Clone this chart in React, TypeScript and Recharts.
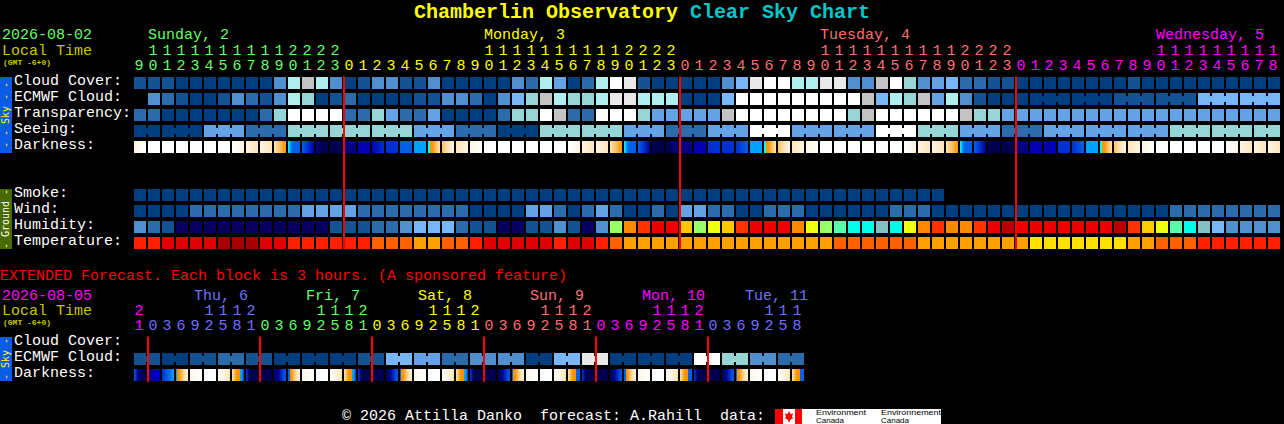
import React from 'react';
import { ComposedChart, Scatter, XAxis, YAxis, ReferenceLine } from 'recharts';

const MONO = '"Liberation Mono", "DejaVu Sans Mono", monospace';

// forecast levels, one per hour column (0 = clear/dark blue ... 10 = white)
const cloudCover = [1,1,1,0,0,0,0,0,0,0, 3,7,8,7,3,0,1,3,3,1, 1,3,0,0,0,0,0,3,2,7, 4,0,2,7,10,9,1,0,0,0, 0,0,3,5,9,10,10,7,7,9, 9,3,3,8,10,6,3,4,5,2, 2,1,1,0,0,0,0,0,0,0, 0,1,0,0,0,0,0,0,0,0, 0,0];
const ecmwfCloud = [null,3,2,1,0,0,1,3,2,1, 3,7,6,0,1,2,0,0,0,0, 1,1,3,3,2,0,3,5,6,8, 7,6,6,7,9,9,7,7,7,0, 0,0,5,10,10,10,10,10,10,10, 10,10,8,5,7,6,8,4,7,3, 1,0,0,0,0,0,0,0,0,0, 1,1,1,1,1,1,5,5,5,5, 5,5];
const transparency = [2,2,0,0,0,0,0,0,0,2, 6,10,10,10,10,2,2,6,4,2, 2,4,0,0,0,0,2,6,6,10, 8,2,2,10,10,10,6,4,4,4, 4,4,8,10,10,10,10,10,10,10, 10,6,8,10,10,10,10,10,10,8, 6,6,4,4,4,4,4,4,4,4, 4,4,4,4,4,4,4,4,4,4, 4,4];
const seeing = [0,0,0,0,0,4,4,4,2,2, 2,6,6,6,6,6,6,6,6,6, 4,4,4,2,2,2,0,0,0,6, 6,6,6,6,6,4,4,4,2,2, 2,4,4,4,10,10,10,4,4,4, 4,4,4,10,10,10,6,6,6,4, 4,4,2,2,2,4,4,4,4,4, 4,4,4,4,6,6,6,6,6,6, 6,6];
const smoke = [0,0,0,0,0,0,0,0,0,0, 0,0,0,0,0,0,0,0,0,0, 0,0,0,0,0,0,0,0,0,0, 0,0,0,0,0,0,0,0,0,0, 0,0,0,0,0,0,0,0,0,0, 0,0,0,0,0,0,0,0];
const wind = [0,0,0,0,2,2,2,2,2,2, 2,2,4,4,4,4,2,2,2,2, 2,2,2,2,0,0,0,0,4,4, 2,0,2,4,2,0,0,2,0,4, 4,2,2,0,0,2,2,2,0,0, 0,0,0,0,2,2,2,0,0,0, 0,0,0,0,0,0,0,0,0,0, 0,0,0,0,2,2,2,2,2,2, 2,2];
const humidity = [3,2,1,0,0,0,0,0,0,0, 0,0,0,0,1,1,1,2,2,3, 4,4,4,2,1,1,0,0,1,1, 3,1,0,3,8,11,12,13,13,10, 8,9,10,12,13,13,13,11,9,8, 7,6,6,5,6,9,11,12,11,11, 12,13,14,13,13,13,13,13,13,13, 14,12,10,9,7,6,5,4,3,3, 3,3];
const temperature = [2,2,1,1,1,1,0,0,0,1, 1,2,2,2,2,2,2,3,3,3, 4,4,3,3,2,1,1,1,1,1, 2,1,1,2,3,4,4,4,4,4, 4,4,4,4,4,4,4,4,4,4, 3,3,3,3,3,3,4,4,4,4, 4,4,4,4,5,5,5,5,5,5, 5,4,4,3,3,3,2,2,2,2, 2,2];

// darkness colour stops inside each column, left to right
const darkness = [
  [10,11],[11],[11],[11],[11],[11],[11],[11,10],[10,9],[10,9],
  [9,8,7],[6,4,4,4],[4,3,2],[1,0,0],[0],[1],[2],[2,3],[3],[4],
  [5],[6,7,8,9],[8,9,10],[9,10],[10,11],[11],[11],[11],[11],[11],
  [11],[11,10],[10,9],[10,9],[9,8,7],[6,4,4,4],[4,3,1],[0],[0,1],[1],
  [2],[3],[3],[3,4],[5],[6,7,8,9],[8,9,10],[9,10],[10,11],[11],
  [11],[11],[11],[11],[11],[11,10],[10,9],[10,9],[9,8,7],[6,4,4,4],
  [4,3,1],[0],[0],[1],[2],[2],[3],[3,4],[5],[6,7,8,9],
  [8,9,10],[9,10],[10,11],[11],[11],[11],[11],[11],[11,10],[10,9],
  [10,9],[10,9],
];

const extEcmwf = [1,1,0,0,1,1,2,2,1,1,0,0,0,0,0,0,1,1,5,5,4,4,2,2,3,3,3,3,0,0,5,5,9,9,0,0,0,0,0,0,10,10,6,6,3,3,2,2];
const extDarkness = [
  [4,1,0,0],[1,2,2],[3,4,5],[5,7,8,9,10],[10,11],[11],[11,9],[9,8,7,7,5,3],
  [3,0,0,0],[0],[1,1,3,4],[4,7,8,9,10],[10,11],[11],[11,9],[9,8,7,7,5,3],
  [3,0,0,0],[0],[0,1,3,4],[4,7,8,9,10],[10,11],[11],[11,9],[9,8,7,7,5,3],
  [3,0,0,0],[0],[0,1,3,4],[4,7,8,9,10],[10,11],[11],[11,9],[9,8,7,7,4,4],
  [3,0,0,0],[0],[0,1,3,4],[4,7,8,9,10],[10,11],[11],[11,9],[9,8,7,7,4,4],
  [3,0,0,0],[0],[0,1,3,4],[4,7,8,9,10],[10,11],[11],[11,9],[9,8,7,7,4,4],
];

const mainHours = [9,10,11,12,13,14,15,16,17,18,19,20,21,22,23, 0,1,2,3,4,5,6,7,8,9,10,11,12,13,14,15,16,17,18,19,20,21,22,23, 0,1,2,3,4,5,6,7,8,9,10,11,12,13,14,15,16,17,18,19,20,21,22,23, 0,1,2,3,4,5,6,7,8,9,10,11,12,13,14,15,16,17,18];
const extHours = [21, 0,3,6,9,12,15,18,21, 0,3,6,9,12,15,18,21, 0,3,6,9,12,15,18,21, 0,3,6,9,12,15,18,21, 0,3,6,9,12,15,18,21, 0,3,6,9,12,15,18];

const mainRows = ['Cloud Cover:', 'ECMWF Cloud:', 'Transparency:', 'Seeing:', 'Darkness:', '', '', 'Smoke:', 'Wind:', 'Humidity:', 'Temperature:'];
const extRows = ['Cloud Cover:', 'ECMWF Cloud:', 'Darkness:'];
const mainMidnights = [15, 39, 63];
const extMidnights = [1, 9, 17, 25, 33, 41];

const GREEN = '#66ff66';
const YELLOW = '#ffff00';
const SALMON = '#ff7070';
const MAGENTA = '#ff00ff';
const BLUE = '#7070ff';
const OLIVE_TEXT = '#c8c800';
const mainDayColors = [GREEN, YELLOW, SALMON, MAGENTA];
const extDayColors = [MAGENTA, BLUE, GREEN, YELLOW, SALMON, MAGENTA, BLUE];

const skyColors = ['#003f7f', '#135393', '#2a6bac', '#4f8fcf', '#63a3e5', '#77b7f7', '#95d5d5', '#aeeeee', '#c2c2c2', '#e8e8e8', '#ffffff'];
const darkColors = ['#000050', '#000080', '#0000b0', '#0030d0', '#0060e8', '#00a0ff', '#00ffff', '#ff9000', '#ffc060', '#ffe4b8', '#fff4e4', '#ffffff'];
const humidityColors = ['#08005f', '#135393', '#2a6bac', '#4f8fcf', '#77b7f7', '#80c0c0', '#00ffe8', '#55ffaa', '#99ff66', '#eeff11', '#ffc800', '#ff8800', '#ff3300', '#ee0000', '#b80000'];
const tempColors = ['#a80000', '#e00000', '#ff2000', '#ff6000', '#ffa000', '#ffe000'];

const toPoints = (levels: (number | null)[], row: number) =>
  levels.map((level, i) => ({ x: i + 0.5, y: row + 0.5, level, col: i }));

const colsOf = (levels: number[][], row: number) =>
  levels.map((stops, i) => ({ x: i + 0.5, y: row + 0.5, stops, col: i }));

// solid block, optionally joined to the next column by a short bridge
const blockShape = (palette: string[], joined?: (col: number) => boolean) => (props: any) => {
  const { cx, cy, payload } = props;
  if (payload.level === null || payload.level === undefined) return <g />;
  const fill = palette[payload.level];
  return (
    <g>
      <rect x={cx - 7} y={cy - 6} width={12} height={12} fill={fill} />
      {joined && joined(payload.col) ? <rect x={cx + 5} y={cy - 3} width={2} height={6} fill={fill} /> : null}
    </g>
  );
};

// twilight jumps straight from orange to blue, so that step gets a hard edge
const gradientStops = (stops: number[]) => {
  const out: { offset: number; color: string }[] = [];
  const n = stops.length;
  stops.forEach((s, i) => {
    const offset = n > 1 ? i / (n - 1) : 0;
    if (i > 0 && (stops[i - 1] >= 7) !== (s >= 7)) {
      const mid = offset - 0.5 / (n - 1);
      out.push({ offset: mid, color: darkColors[stops[i - 1]] }, { offset: mid, color: darkColors[s] });
    }
    out.push({ offset, color: darkColors[s] });
  });
  return out;
};

const gradientShape = (prefix: string) => (props: any) => {
  const { cx, cy, payload } = props;
  const id = `${prefix}-${payload.col}`;
  return (
    <g>
      <defs>
        <linearGradient id={id} x1="0" x2="1" y1="0" y2="0">
          {gradientStops(payload.stops).map((s, i) => (
            <stop key={i} offset={s.offset} stopColor={s.color} />
          ))}
        </linearGradient>
      </defs>
      <rect x={cx - 7} y={cy - 6} width={12} height={12} fill={`url(#${id})`} />
    </g>
  );
};

const hourTick = (hours: number[], dayColors: string[], unitsY: number) => (props: any) => {
  const col = Math.floor(props.payload.value);
  let day = 0;
  for (let i = 1; i <= col; i++) if (hours[i] < hours[i - 1]) day++;
  const h = hours[col];
  return (
    <g fill={dayColors[day]} fontFamily={MONO} fontSize={15} textAnchor="middle">
      {h >= 10 ? <text x={props.x - 2} y={unitsY - 15}>{Math.floor(h / 10)}</text> : null}
      <text x={props.x - 2} y={unitsY}>{h % 10}</text>
    </g>
  );
};

const rowTick = (rows: string[]) => (props: any) => (
  <text x={14} y={props.y + 2} fill="#ffffff" fontFamily={MONO} fontSize={15}>
    {rows[Math.floor(props.payload.value)]}
  </text>
);

const centers = (n: number) => Array.from({ length: n }, (_, i) => i + 0.5);

const layer: React.CSSProperties = { position: 'absolute', left: 0, top: 0 };

function Page() {
  return (
    <svg width={1284} height={424} style={layer} fontFamily={MONO}>
      <text x={414} y={18} fontSize={20} fontWeight="bold" fill="#ffff00">Chamberlin Observatory</text>
      <text x={690} y={18} fontSize={20} fontWeight="bold" fill="#00c8c8">Clear Sky Chart</text>

      <text x={2} y={39} fontSize={15} fill={GREEN}>2026-08-02</text>
      <text x={2} y={55} fontSize={15} fill={OLIVE_TEXT}>Local Time</text>
      <text x={3} y={65} fontSize={7} textLength={48} lengthAdjust="spacingAndGlyphs" fontWeight="bold" fill={OLIVE_TEXT}>(GMT -6+0)</text>
      <text x={148} y={39} fontSize={15} fill={GREEN}>Sunday, 2</text>
      <text x={484} y={39} fontSize={15} fill={YELLOW}>Monday, 3</text>
      <text x={820} y={39} fontSize={15} fill={SALMON}>Tuesday, 4</text>
      <text x={1156} y={39} fontSize={15} fill={MAGENTA}>Wednesday, 5</text>

      <rect x={0} y={77} width={12} height={76} fill="#0a5ce6" />
      <text transform="translate(9,115) rotate(-90)" textAnchor="middle" fontSize={10} fontFamily='"DejaVu Sans Mono"' fill="#ffff00">- - Sky - -</text>
      <rect x={0} y={189} width={12} height={60} fill="#4a6b00" />
      <text transform="translate(9,219) rotate(-90)" textAnchor="middle" fontSize={10} fontFamily='"DejaVu Sans Mono"' fill="#ffffff">- Ground -</text>

      <text x={0} y={280} fontSize={15} fill="#ff0000">EXTENDED Forecast. Each block is 3 hours. (A sponsored feature)</text>
      <text x={2} y={300} fontSize={15} fill={MAGENTA}>2026-08-05</text>
      <text x={2} y={315} fontSize={15} fill={OLIVE_TEXT}>Local Time</text>
      <text x={3} y={325} fontSize={7} textLength={48} lengthAdjust="spacingAndGlyphs" fontWeight="bold" fill={OLIVE_TEXT}>(GMT -6+0)</text>
      <text x={194} y={300} fontSize={15} fill={BLUE}>Thu, 6</text>
      <text x={306} y={300} fontSize={15} fill={GREEN}>Fri, 7</text>
      <text x={418} y={300} fontSize={15} fill={YELLOW}>Sat, 8</text>
      <text x={530} y={300} fontSize={15} fill={SALMON}>Sun, 9</text>
      <text x={642} y={300} fontSize={15} fill={MAGENTA}>Mon, 10</text>
      <text x={745} y={300} fontSize={15} fill={BLUE}>Tue, 11</text>

      <rect x={0} y={337} width={12} height={44} fill="#0a5ce6" />
      <text transform="translate(9,359) rotate(-90)" textAnchor="middle" fontSize={10} fontFamily='"DejaVu Sans Mono"' fill="#ffff00">- Sky -</text>

      <text x={342} y={420} fontSize={15} fill="#ffffff" style={{ whiteSpace: 'pre' }}>© 2026 Attilla Danko  forecast: A.Rahill  data:</text>
      <rect x={775} y={409} width={166} height={15} fill="#ffffff" />
      <rect x={775} y={409} width={8} height={15} fill="#ff0000" />
      <rect x={795} y={409} width={7} height={15} fill="#ff0000" />
      <path d="M789 411 L790.5 414 L793 413.5 L792 417 L793.5 418 L790 420 L789.5 422 L788.5 422 L788 420 L784.5 418 L786 417 L785 413.5 L787.5 414 Z" fill="#ff0000" />
      <g fontFamily='"Liberation Sans", sans-serif' fontSize={7} fill="#000000">
        <text x={816} y={415} textLength={50} lengthAdjust="spacingAndGlyphs">Environment</text>
        <text x={816} y={423} textLength={28} lengthAdjust="spacingAndGlyphs">Canada</text>
        <text x={881} y={415} textLength={60} lengthAdjust="spacingAndGlyphs">Environnement</text>
        <text x={881} y={423} textLength={28} lengthAdjust="spacingAndGlyphs">Canada</text>
      </g>
    </svg>
  );
}

function MainChart() {
  const joinSeeing = (col: number) => col % 3 !== 1 && col < 81;
  const joinEcmwf = (col: number) => col >= 64 && (col - 64) % 3 !== 2 && col < 81;
  return (
    <ComposedChart width={1284} height={251} style={layer} margin={{ top: 45, right: 2, bottom: 0, left: 0 }}>
      <XAxis xAxisId={0} type="number" dataKey="x" orientation="top" height={30} domain={[0, 82]} ticks={centers(82)} interval={0}
        axisLine={false} tickLine={false} tick={hourTick(mainHours, mainDayColors, 70)} />
      <YAxis yAxisId={0} type="number" dataKey="y" reversed width={134} domain={[0, 11]} ticks={centers(11).filter((t) => mainRows[Math.floor(t)] !== '')} interval={0}
        axisLine={false} tickLine={false} tick={rowTick(mainRows)} />
      <Scatter data={toPoints(cloudCover, 0)} shape={blockShape(skyColors)} isAnimationActive={false} />
      <Scatter data={toPoints(ecmwfCloud, 1)} shape={blockShape(skyColors, joinEcmwf)} isAnimationActive={false} />
      <Scatter data={toPoints(transparency, 2)} shape={blockShape(skyColors)} isAnimationActive={false} />
      <Scatter data={toPoints(seeing, 3)} shape={blockShape(skyColors, joinSeeing)} isAnimationActive={false} />
      <Scatter data={colsOf(darkness, 4)} shape={gradientShape('dark')} isAnimationActive={false} />
      <Scatter data={toPoints(smoke, 7)} shape={blockShape(skyColors)} isAnimationActive={false} />
      <Scatter data={toPoints(wind, 8)} shape={blockShape(skyColors)} isAnimationActive={false} />
      <Scatter data={toPoints(humidity, 9)} shape={blockShape(humidityColors)} isAnimationActive={false} />
      <Scatter data={toPoints(temperature, 10)} shape={blockShape(tempColors)} isAnimationActive={false} />
    </ComposedChart>
  );
}

function ExtendedChart() {
  const joinPairs = (col: number) => col % 2 === 0;
  return (
    <ComposedChart width={806} height={383} style={layer} margin={{ top: 305, right: 0, bottom: 0, left: 0 }}>
      <XAxis xAxisId={0} type="number" dataKey="x" orientation="top" height={30} domain={[0, 48]} ticks={centers(48)} interval={0}
        axisLine={false} tickLine={false} tick={hourTick(extHours, extDayColors, 330)} />
      <YAxis yAxisId={0} type="number" dataKey="y" reversed width={134} domain={[0, 3]} ticks={centers(3)} interval={0}
        axisLine={false} tickLine={false} tick={rowTick(extRows)} />
      <Scatter data={toPoints(extEcmwf, 1)} shape={blockShape(skyColors, joinPairs)} isAnimationActive={false} />
      <Scatter data={colsOf(extDarkness, 2)} shape={gradientShape('ext')} isAnimationActive={false} />
    </ComposedChart>
  );
}

// midnight markers go in their own layer so they stay on top of the blocks
function MidnightLines({ width, height, top, cols, rows, marks, y0, y1 }: any) {
  return (
    <ComposedChart width={width} height={height} style={layer} margin={{ top, right: width - 134 - cols * 14, bottom: 0, left: 134 }}>
      <XAxis xAxisId={0} hide type="number" dataKey="x" domain={[0, cols]} />
      <YAxis yAxisId={0} hide type="number" dataKey="y" reversed domain={[0, rows]} />
      <Scatter data={[{ x: 0, y: 0 }]} shape={() => <g />} isAnimationActive={false} />
      {marks.map((m: number) => (
        <ReferenceLine key={m} segment={[{ x: m, y: y0 }, { x: m, y: y1 }]} stroke="#ff0000" strokeWidth={2} />
      ))}
    </ComposedChart>
  );
}

export default function App() {
  return (
    <div style={{ position: 'absolute', left: 0, top: 0, width: 1284, height: 424, background: '#000000', overflow: 'hidden' }}>
      <Page />
      <MainChart />
      <ExtendedChart />
      <MidnightLines width={1284} height={251} top={75} cols={82} rows={11} marks={mainMidnights} y0={0.1} y1={10.87} />
      <MidnightLines width={806} height={383} top={335} cols={48} rows={3} marks={extMidnights} y0={0.1} y1={2.95} />
    </div>
  );
}
